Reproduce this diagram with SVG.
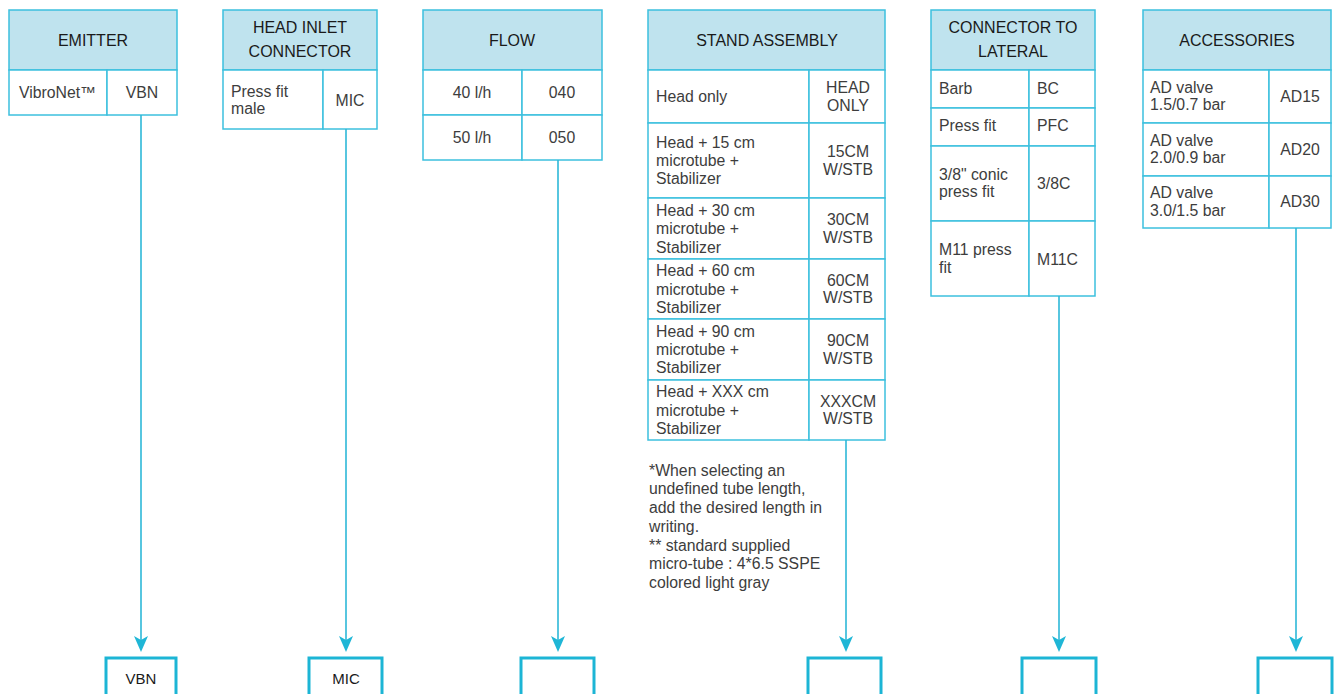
<svg xmlns="http://www.w3.org/2000/svg" width="1337" height="694" viewBox="0 0 1337 694">
<style>
.hd{fill:#bfe3ee;stroke:#3cc0de;stroke-width:1.5}
.cl{fill:#ffffff;stroke:#3cc0de;stroke-width:1.5}
.ht{font-family:"Liberation Sans",Arial,sans-serif;font-size:16px;fill:#1a1a1a;text-anchor:middle}
.t{font-family:"Liberation Sans",Arial,sans-serif;font-size:15.8px;fill:#3d3d3d}
.c{text-anchor:middle}
.ln{stroke:#2db8d8;stroke-width:1.6;fill:none}
.ah{fill:#1fb6d6}
.bx{fill:none;stroke:#1cb5d5;stroke-width:3}
.bt{font-family:"Liberation Sans",Arial,sans-serif;font-size:15px;fill:#1a1a1a;text-anchor:middle}
</style>
<rect width="1337" height="694" fill="#ffffff"/>

<g id="emitter">
<rect class="hd" x="9" y="10" width="168" height="60"/>
<rect class="cl" x="9" y="70" width="98" height="45"/>
<rect class="cl" x="107" y="70" width="70" height="45"/>
<text class="ht" x="93" y="46">EMITTER</text>
<text class="t" x="19" y="98">VibroNet™</text>
<text class="t c" x="142" y="98">VBN</text>
</g>

<g id="head-inlet">
<rect class="hd" x="223" y="10" width="154" height="60"/>
<rect class="cl" x="223" y="70" width="100" height="59"/>
<rect class="cl" x="323" y="70" width="54" height="59"/>
<text class="ht" x="300" y="33">HEAD INLET</text>
<text class="ht" x="300" y="57">CONNECTOR</text>
<text class="t" x="231" y="97">Press fit</text>
<text class="t" x="231" y="114">male</text>
<text class="t c" x="350" y="106">MIC</text>
</g>

<g id="flow">
<rect class="hd" x="423" y="10" width="179" height="60"/>
<rect class="cl" x="423" y="70" width="99" height="45"/>
<rect class="cl" x="522" y="70" width="80" height="45"/>
<rect class="cl" x="423" y="115" width="99" height="45"/>
<rect class="cl" x="522" y="115" width="80" height="45"/>
<text class="ht" x="512" y="46">FLOW</text>
<text class="t c" x="472" y="98">40 l/h</text>
<text class="t c" x="562" y="98">040</text>
<text class="t c" x="472" y="143">50 l/h</text>
<text class="t c" x="562" y="143">050</text>
</g>

<g id="stand-assembly">
<rect class="hd" x="648" y="10" width="237" height="60"/>
<rect class="cl" x="648" y="70" width="161" height="53"/>
<rect class="cl" x="809" y="70" width="76" height="53"/>
<rect class="cl" x="648" y="123" width="161" height="75"/>
<rect class="cl" x="809" y="123" width="76" height="75"/>
<rect class="cl" x="648" y="198" width="161" height="61"/>
<rect class="cl" x="809" y="198" width="76" height="61"/>
<rect class="cl" x="648" y="259" width="161" height="60"/>
<rect class="cl" x="809" y="259" width="76" height="60"/>
<rect class="cl" x="648" y="319" width="161" height="61"/>
<rect class="cl" x="809" y="319" width="76" height="61"/>
<rect class="cl" x="648" y="380" width="161" height="60"/>
<rect class="cl" x="809" y="380" width="76" height="60"/>
<text class="ht" x="767" y="46">STAND ASSEMBLY</text>
<text class="t" x="656" y="102">Head only</text>
<text class="t c" x="848" y="93">HEAD</text>
<text class="t c" x="848" y="111">ONLY</text>
<text class="t" x="656" y="148">Head + 15 cm</text>
<text class="t" x="656" y="166">microtube +</text>
<text class="t" x="656" y="184">Stabilizer</text>
<text class="t c" x="848" y="157">15CM</text>
<text class="t c" x="848" y="175">W/STB</text>
<text class="t" x="656" y="216">Head + 30 cm</text>
<text class="t" x="656" y="234">microtube +</text>
<text class="t" x="656" y="253">Stabilizer</text>
<text class="t c" x="848" y="225">30CM</text>
<text class="t c" x="848" y="243">W/STB</text>
<text class="t" x="656" y="276">Head + 60 cm</text>
<text class="t" x="656" y="295">microtube +</text>
<text class="t" x="656" y="313">Stabilizer</text>
<text class="t c" x="848" y="286">60CM</text>
<text class="t c" x="848" y="303">W/STB</text>
<text class="t" x="656" y="337">Head + 90 cm</text>
<text class="t" x="656" y="355">microtube +</text>
<text class="t" x="656" y="373">Stabilizer</text>
<text class="t c" x="848" y="346">90CM</text>
<text class="t c" x="848" y="364">W/STB</text>
<text class="t" x="656" y="397">Head + XXX cm</text>
<text class="t" x="656" y="416">microtube +</text>
<text class="t" x="656" y="434">Stabilizer</text>
<text class="t c" x="848" y="407">XXXCM</text>
<text class="t c" x="848" y="424">W/STB</text>
</g>

<g id="footnote">
<text class="t" x="649" y="476">*When selecting an</text>
<text class="t" x="649" y="494">undefined tube length,</text>
<text class="t" x="649" y="513">add the desired length in</text>
<text class="t" x="649" y="532">writing.</text>
<text class="t" x="649" y="551">** standard supplied</text>
<text class="t" x="649" y="569">micro-tube : 4*6.5 SSPE</text>
<text class="t" x="649" y="588">colored light gray</text>
</g>

<g id="connector-to-lateral">
<rect class="hd" x="931" y="10" width="164" height="60"/>
<rect class="cl" x="931" y="70" width="98" height="38"/>
<rect class="cl" x="1029" y="70" width="66" height="38"/>
<rect class="cl" x="931" y="108" width="98" height="38"/>
<rect class="cl" x="1029" y="108" width="66" height="38"/>
<rect class="cl" x="931" y="146" width="98" height="75"/>
<rect class="cl" x="1029" y="146" width="66" height="75"/>
<rect class="cl" x="931" y="221" width="98" height="75"/>
<rect class="cl" x="1029" y="221" width="66" height="75"/>
<text class="ht" x="1013" y="33">CONNECTOR TO</text>
<text class="ht" x="1013" y="57">LATERAL</text>
<text class="t" x="939" y="94">Barb</text>
<text class="t" x="1037" y="94">BC</text>
<text class="t" x="939" y="131">Press fit</text>
<text class="t" x="1037" y="131">PFC</text>
<text class="t" x="939" y="180">3/8" conic</text>
<text class="t" x="939" y="197">press fit</text>
<text class="t" x="1037" y="189">3/8C</text>
<text class="t" x="939" y="255">M11 press</text>
<text class="t" x="939" y="273">fit</text>
<text class="t" x="1037" y="265">M11C</text>
</g>

<g id="accessories">
<rect class="hd" x="1143" y="10" width="188" height="60"/>
<rect class="cl" x="1143" y="70" width="126" height="53"/>
<rect class="cl" x="1269" y="70" width="62" height="53"/>
<rect class="cl" x="1143" y="123" width="126" height="53"/>
<rect class="cl" x="1269" y="123" width="62" height="53"/>
<rect class="cl" x="1143" y="176" width="126" height="52"/>
<rect class="cl" x="1269" y="176" width="62" height="52"/>
<text class="ht" x="1237" y="46">ACCESSORIES</text>
<text class="t" x="1150" y="93">AD valve</text>
<text class="t" x="1150" y="110">1.5/0.7 bar</text>
<text class="t c" x="1300" y="102">AD15</text>
<text class="t" x="1150" y="146">AD valve</text>
<text class="t" x="1150" y="163">2.0/0.9 bar</text>
<text class="t c" x="1300" y="155">AD20</text>
<text class="t" x="1150" y="198">AD valve</text>
<text class="t" x="1150" y="216">3.0/1.5 bar</text>
<text class="t c" x="1300" y="207">AD30</text>
</g>

<g id="connectors">
<line class="ln" x1="141" y1="115" x2="141" y2="642"/>
<polygon class="ah" points="141,652 134,636 141,640 148,636"/>
<line class="ln" x1="346" y1="129" x2="346" y2="642"/>
<polygon class="ah" points="346,652 339,636 346,640 353,636"/>
<line class="ln" x1="558" y1="160" x2="558" y2="642"/>
<polygon class="ah" points="558,652 551,636 558,640 565,636"/>
<line class="ln" x1="846" y1="440" x2="846" y2="642"/>
<polygon class="ah" points="846,652 839,636 846,640 853,636"/>
<line class="ln" x1="1059" y1="296" x2="1059" y2="642"/>
<polygon class="ah" points="1059,652 1052,636 1059,640 1066,636"/>
<line class="ln" x1="1296" y1="228" x2="1296" y2="642"/>
<polygon class="ah" points="1296,652 1289,636 1296,640 1303,636"/>
</g>

<g id="result-vbn">
<rect class="bx" x="106" y="658" width="70" height="50"/>
<text class="bt" x="141" y="684">VBN</text>
</g>
<g id="result-mic">
<rect class="bx" x="309" y="658" width="73" height="50"/>
<text class="bt" x="346" y="684">MIC</text>
</g>
<g id="result-flow">
<rect class="bx" x="521" y="658" width="73" height="50"/>
</g>
<g id="result-stand">
<rect class="bx" x="808" y="658" width="73" height="50"/>
</g>
<g id="result-connector">
<rect class="bx" x="1022" y="658" width="74" height="50"/>
</g>
<g id="result-accessories">
<rect class="bx" x="1258" y="658" width="74" height="50"/>
</g>
</svg>
